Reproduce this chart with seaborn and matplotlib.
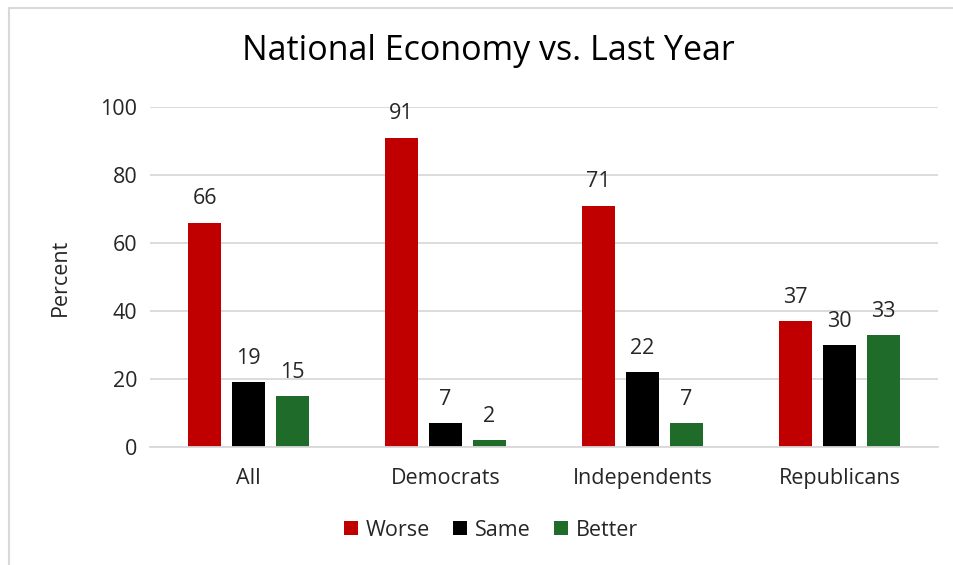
import matplotlib
matplotlib.use("Agg")
import matplotlib.pyplot as plt
import seaborn as sns
import pandas as pd
from matplotlib.lines import Line2D
from matplotlib.patches import Patch

groups = ["All", "Democrats", "Independents", "Republicans"]
worse = [66, 91, 71, 37]
same = [19, 7, 22, 30]
better = [15, 2, 7, 33]
series = ["Worse", "Same", "Better"]
colors = ["#C00000", "#000000", "#1E6B2A"]

df = pd.DataFrame({
    "group": groups * 3,
    "answer": [s for s in series for _ in groups],
    "pct": worse + same + better,
})

sns.set_theme(style="white")
plt.rcParams["font.family"] = ["Open Sans", "DejaVu Sans"]

FS = 15.5
TXT = "#262626"

fig = plt.figure(figsize=(9.54, 5.65), dpi=100)
ax = fig.add_axes([150 / 954, 1 - 447 / 565, 788 / 954, 340 / 565])

sns.barplot(data=df, x="group", y="pct", hue="answer", hue_order=series,
            palette=colors, width=0.67, gap=0.23, saturation=1,
            linewidth=0, legend=False, ax=ax)

ax.set_ylim(0, 100)
ax.set_yticks(range(0, 101, 20))
ax.yaxis.grid(True, color="#D9D9D9", linewidth=1.3)
ax.set_axisbelow(True)
for s in ["top", "right", "left"]:
    ax.spines[s].set_visible(False)
ax.spines["bottom"].set_color("#D9D9D9")
ax.spines["bottom"].set_linewidth(1.3)
ax.tick_params(axis="both", length=0, labelsize=FS, colors=TXT)
ax.tick_params(axis="y", pad=9)
ax.tick_params(axis="x", pad=15)
ax.set_xlabel("")
ax.set_ylabel("Percent", fontsize=FS, color=TXT, labelpad=21)

for cont in ax.containers:
    ax.bar_label(cont, fmt="%d", padding=9.5, fontsize=FS, color=TXT)

fig.text(488 / 954, 1 - 51 / 565, "National Economy vs. Last Year",
         ha="center", va="center", fontsize=24.5, color="#000000")

handles = [Patch(facecolor=c, edgecolor="none") for c in colors]
fig.legend(handles, series, loc="center", bbox_to_anchor=(491 / 954, 1 - 530 / 565),
           ncol=3, frameon=False, fontsize=FS, handlelength=0.65, handleheight=0.65,
           handletextpad=0.35, columnspacing=1.1, labelcolor=TXT)

# light frame along the left and top edges
fig.add_artist(Line2D([9 / 954, 9 / 954], [0, 1 - 8 / 565], transform=fig.transFigure,
                      color="#D9D9D9", linewidth=1.5))
fig.add_artist(Line2D([9 / 954, 1], [1 - 8 / 565, 1 - 8 / 565], transform=fig.transFigure,
                      color="#D9D9D9", linewidth=1.5))

fig.savefig("out.png", dpi=100, facecolor="white")
